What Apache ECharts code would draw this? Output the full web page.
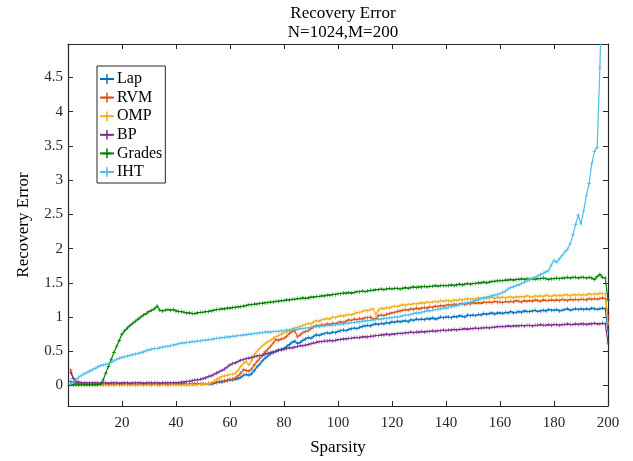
<!DOCTYPE html>
<html>
<head>
<meta charset="utf-8">
<script src="https://cdn.jsdelivr.net/npm/echarts@6/dist/echarts.min.js"></script>
<style>html,body{margin:0;padding:0;background:#fff;}#c{width:633px;height:461px;}</style>
</head>
<body>
<div id="c"></div>
<script>
const seriesNames = ['Lap','RVM','OMP','BP','Grades','IHT'];
const xTicks = [20,40,60,80,100,120,140,160,180,200];
const yTicks = [0,0.5,1,1.5,2,2.5,3,3.5,4,4.5];

const lap = [
0.06,0.04,0.03,0.02,0.02,0.02,0.02,0.02,0.02,0.02,
0.02,0.02,0.01,0.02,0.02,0.02,0.01,0.02,0.02,0.02,
0.02,0.01,0.02,0.02,0.02,0.01,0.02,0.02,0.02,0.02,
0.02,0.02,0.01,0.02,0.02,0.02,0.02,0.01,0.02,0.02,
0.02,0.02,0.02,0.01,0.02,0.02,0.02,0.02,0.02,0.02,
0.02,0.03,0.02,0.03,0.04,0.05,0.05,0.06,0.07,0.08,
0.08,0.09,0.10,0.12,0.15,0.16,0.15,0.17,0.22,0.27,
0.31,0.36,0.40,0.43,0.46,0.48,0.50,0.52,0.53,0.54,
0.57,0.60,0.63,0.65,0.61,0.63,0.66,0.68,0.70,0.69,
0.72,0.74,0.73,0.75,0.76,0.77,0.76,0.78,0.77,0.79,
0.80,0.81,0.80,0.82,0.83,0.84,0.83,0.85,0.86,0.87,
0.88,0.87,0.89,0.90,0.89,0.91,0.90,0.92,0.91,0.93,
0.92,0.94,0.93,0.94,0.95,0.93,0.96,0.95,0.97,0.96,
0.97,0.96,0.98,0.97,0.99,0.97,0.98,1.00,0.99,1.00,
1.00,0.99,1.01,1.00,1.02,1.01,1.00,1.03,1.02,1.03,
1.02,1.04,1.03,1.05,1.04,1.05,1.06,1.04,1.06,1.06,
1.05,1.07,1.06,1.08,1.06,1.07,1.08,1.07,1.09,1.08,
1.08,1.09,1.10,1.08,1.09,1.10,1.09,1.11,1.10,1.10,
1.11,1.09,1.10,1.11,1.12,1.10,1.11,1.12,1.11,1.12,
1.11,1.12,1.11,1.13,1.12,1.11,1.12,1.13,1.12,0.80];

const rvm = [
0.23,0.10,0.04,0.03,0.03,0.02,0.02,0.02,0.02,0.02,
0.02,0.02,0.02,0.01,0.02,0.02,0.02,0.02,0.01,0.02,
0.02,0.02,0.02,0.02,0.01,0.02,0.02,0.02,0.02,0.02,
0.01,0.02,0.02,0.02,0.02,0.02,0.01,0.02,0.02,0.02,
0.02,0.02,0.02,0.02,0.01,0.02,0.02,0.02,0.02,0.02,
0.02,0.03,0.03,0.04,0.05,0.06,0.06,0.07,0.08,0.09,
0.09,0.11,0.14,0.18,0.23,0.22,0.21,0.24,0.30,0.35,
0.39,0.44,0.49,0.53,0.57,0.62,0.67,0.66,0.68,0.69,
0.72,0.76,0.79,0.80,0.71,0.74,0.77,0.79,0.80,0.83,
0.86,0.88,0.87,0.89,0.88,0.90,0.89,0.91,0.90,0.92,
0.93,0.92,0.94,0.96,0.95,0.97,0.96,0.98,0.97,0.99,
0.99,1.00,0.97,0.98,1.02,1.03,1.02,1.04,1.05,1.06,
1.07,1.08,1.09,1.10,1.11,1.10,1.12,1.11,1.13,1.12,
1.13,1.14,1.13,1.15,1.14,1.16,1.15,1.17,1.16,1.17,
1.18,1.17,1.19,1.18,1.19,1.20,1.18,1.20,1.19,1.21,
1.20,1.21,1.20,1.22,1.21,1.22,1.21,1.23,1.22,1.22,
1.21,1.23,1.22,1.23,1.22,1.24,1.23,1.22,1.24,1.23,
1.24,1.23,1.25,1.24,1.23,1.25,1.24,1.24,1.25,1.24,
1.25,1.24,1.26,1.25,1.24,1.26,1.25,1.26,1.25,1.26,
1.26,1.25,1.27,1.26,1.27,1.26,1.27,1.28,1.27,1.00];

const omp = [
0.02,0.01,0.01,0.00,0.01,0.00,0.01,0.00,0.01,0.00,
0.01,0.00,0.01,0.01,0.00,0.01,0.00,0.01,0.01,0.00,
0.01,0.01,0.00,0.01,0.00,0.01,0.01,0.00,0.01,0.01,
0.00,0.01,0.01,0.00,0.01,0.01,0.00,0.01,0.01,0.01,
0.01,0.00,0.01,0.01,0.01,0.01,0.01,0.01,0.02,0.02,
0.02,0.03,0.04,0.06,0.09,0.11,0.13,0.14,0.15,0.16,
0.16,0.18,0.22,0.28,0.32,0.35,0.30,0.36,0.45,0.50,
0.54,0.58,0.61,0.64,0.66,0.69,0.71,0.73,0.75,0.77,
0.78,0.80,0.82,0.84,0.85,0.86,0.88,0.89,0.91,0.90,
0.93,0.95,0.94,0.96,0.97,0.98,0.97,1.00,0.99,1.01,
1.02,1.01,1.03,1.04,1.03,1.05,1.06,1.07,1.08,1.10,
1.09,1.11,1.12,1.04,1.10,1.13,1.12,1.14,1.13,1.15,
1.16,1.15,1.17,1.18,1.17,1.19,1.18,1.20,1.19,1.20,
1.21,1.20,1.22,1.21,1.22,1.23,1.22,1.24,1.23,1.24,
1.24,1.23,1.25,1.24,1.26,1.25,1.26,1.27,1.26,1.27,
1.26,1.28,1.27,1.28,1.27,1.28,1.29,1.27,1.29,1.28,
1.29,1.28,1.29,1.30,1.28,1.30,1.29,1.30,1.29,1.31,
1.30,1.29,1.31,1.30,1.31,1.30,1.32,1.31,1.30,1.32,
1.31,1.32,1.31,1.33,1.32,1.31,1.33,1.32,1.33,1.32,
1.33,1.32,1.34,1.33,1.34,1.33,1.35,1.34,1.34,0.90];

const bp = [
0.19,0.10,0.06,0.05,0.04,0.04,0.04,0.04,0.04,0.04,
0.04,0.03,0.04,0.04,0.03,0.04,0.04,0.04,0.03,0.04,
0.04,0.04,0.03,0.04,0.04,0.04,0.04,0.03,0.04,0.04,
0.04,0.04,0.04,0.03,0.04,0.04,0.04,0.04,0.04,0.04,
0.04,0.05,0.05,0.06,0.06,0.07,0.08,0.08,0.09,0.10,
0.11,0.13,0.14,0.16,0.18,0.20,0.22,0.24,0.27,0.30,
0.32,0.33,0.35,0.37,0.38,0.39,0.40,0.41,0.42,0.43,
0.44,0.44,0.46,0.47,0.48,0.49,0.50,0.51,0.52,0.53,
0.54,0.55,0.55,0.56,0.57,0.58,0.58,0.59,0.60,0.61,
0.62,0.63,0.64,0.64,0.65,0.65,0.66,0.65,0.66,0.67,
0.67,0.68,0.68,0.69,0.69,0.70,0.70,0.70,0.71,0.71,
0.71,0.72,0.72,0.73,0.73,0.74,0.74,0.75,0.74,0.75,
0.75,0.76,0.76,0.76,0.77,0.77,0.78,0.77,0.78,0.78,
0.79,0.78,0.79,0.79,0.80,0.79,0.80,0.80,0.81,0.80,
0.81,0.81,0.82,0.81,0.82,0.82,0.83,0.82,0.83,0.83,
0.84,0.83,0.84,0.84,0.85,0.84,0.85,0.85,0.86,0.86,
0.86,0.86,0.87,0.86,0.87,0.87,0.87,0.88,0.87,0.88,
0.88,0.87,0.88,0.88,0.89,0.88,0.88,0.89,0.88,0.89,
0.89,0.88,0.89,0.89,0.90,0.89,0.89,0.90,0.89,0.90,
0.90,0.89,0.90,0.90,0.91,0.90,0.90,0.91,0.90,0.62];

const grades = [
0.01,0.01,0.01,0.01,0.01,0.01,0.01,0.01,0.01,0.01,
0.01,0.02,0.08,0.18,0.28,0.38,0.48,0.57,0.66,0.75,
0.80,0.84,0.88,0.91,0.94,0.97,1.00,1.03,1.05,1.08,
1.10,1.12,1.16,1.10,1.09,1.10,1.11,1.10,1.11,1.09,
1.08,1.08,1.07,1.06,1.06,1.05,1.05,1.06,1.07,1.07,
1.08,1.08,1.09,1.10,1.11,1.11,1.12,1.12,1.13,1.13,
1.14,1.14,1.15,1.15,1.16,1.17,1.18,1.18,1.19,1.19,
1.20,1.20,1.21,1.21,1.22,1.22,1.23,1.23,1.24,1.24,
1.25,1.25,1.26,1.26,1.27,1.27,1.28,1.27,1.28,1.29,
1.29,1.30,1.30,1.31,1.31,1.32,1.32,1.33,1.33,1.34,
1.34,1.35,1.35,1.36,1.35,1.36,1.37,1.37,1.38,1.37,
1.38,1.39,1.39,1.40,1.40,1.41,1.40,1.41,1.42,1.41,
1.42,1.42,1.41,1.42,1.43,1.42,1.43,1.44,1.43,1.44,
1.44,1.45,1.44,1.45,1.45,1.46,1.45,1.46,1.46,1.46,
1.46,1.47,1.46,1.47,1.48,1.47,1.48,1.49,1.48,1.49,
1.49,1.50,1.50,1.51,1.50,1.51,1.52,1.52,1.53,1.53,
1.53,1.54,1.54,1.55,1.54,1.55,1.55,1.56,1.55,1.56,
1.55,1.56,1.55,1.56,1.56,1.57,1.56,1.55,1.56,1.56,
1.57,1.56,1.57,1.57,1.58,1.57,1.58,1.58,1.57,1.58,
1.58,1.57,1.58,1.57,1.55,1.59,1.62,1.58,1.57,1.25];

const iht = [
0.02,0.05,0.09,0.12,0.15,0.17,0.19,0.21,0.23,0.25,
0.27,0.29,0.30,0.31,0.32,0.34,0.36,0.38,0.40,0.41,
0.42,0.43,0.44,0.45,0.46,0.47,0.48,0.49,0.51,0.52,
0.53,0.54,0.54,0.55,0.56,0.57,0.57,0.58,0.59,0.60,
0.61,0.62,0.62,0.63,0.63,0.64,0.64,0.65,0.65,0.66,
0.66,0.67,0.67,0.68,0.69,0.69,0.70,0.70,0.71,0.71,
0.72,0.72,0.73,0.73,0.74,0.74,0.75,0.75,0.76,0.76,
0.77,0.77,0.78,0.78,0.78,0.79,0.79,0.79,0.80,0.80,
0.81,0.81,0.82,0.82,0.82,0.83,0.83,0.84,0.84,0.85,
0.85,0.86,0.86,0.87,0.87,0.88,0.88,0.88,0.89,0.89,
0.90,0.90,0.91,0.91,0.92,0.92,0.93,0.93,0.94,0.94,
0.95,0.95,0.96,0.96,0.97,0.97,0.98,0.98,0.99,0.99,
1.00,1.00,1.01,1.02,1.03,1.03,1.04,1.05,1.06,1.06,
1.07,1.08,1.09,1.09,1.10,1.11,1.11,1.12,1.13,1.13,
1.14,1.15,1.16,1.17,1.18,1.19,1.20,1.21,1.22,1.23,
1.24,1.25,1.27,1.28,1.29,1.30,1.31,1.32,1.33,1.34,
1.36,1.38,1.41,1.43,1.44,1.46,1.47,1.49,1.51,1.53,
1.55,1.57,1.58,1.60,1.62,1.64,1.66,1.68,1.76,1.83,
1.80,1.85,1.90,1.95,1.99,2.07,2.20,2.35,2.49,2.36,
2.55,2.78,2.95,3.24,3.42,3.48,4.65,6.20,7.50,8.50];

const colors = ['#0072BD','#D95319','#EDB120','#7E2F8E','#008000','#4DBEEE'];
const allData = [lap, rvm, omp, bp, grades, iht];

const FONT = 'Liberation Serif';
const AX = '#262626';
const plus = 'path://M0,2.1H5V2.9H0Z M2.1,0H2.9V5H2.1Z';

const chart = echarts.init(document.getElementById('c'), null, {renderer: 'canvas'});

const xBase = {
  type: 'value', min: 0, max: 200,
  axisLine: {show: true, onZero: false, lineStyle: {color: AX, width: 1.2}},
  axisTick: {show: true, inside: true, length: 5, customValues: xTicks, lineStyle: {color: AX}},
  splitLine: {show: false}
};
const yBase = {
  type: 'value', min: -0.3, max: 4.99,
  axisLine: {show: true, onZero: false, lineStyle: {color: AX, width: 1.2}},
  axisTick: {show: true, inside: true, length: 5, customValues: yTicks, lineStyle: {color: AX}},
  splitLine: {show: false}
};

chart.setOption({
  animation: false,
  backgroundColor: '#fff',
  title: {
    text: 'Recovery Error\nN=1024,M=200',
    left: 338, top: -1, textAlign: 'center',
    textStyle: {fontFamily: FONT, fontSize: 17, fontWeight: 'normal', color: '#000', lineHeight: 19}
  },
  grid: {left: 68, right: 25, top: 44, bottom: 51, containLabel: false},
  legend: {
    data: seriesNames,
    orient: 'vertical',
    left: 97, top: 66,
    backgroundColor: '#fff',
    borderColor: AX, borderWidth: 1,
    padding: [5, 3, 3, 2],
    itemWidth: 14, itemHeight: 12, itemGap: 2.6,
    textStyle: {fontFamily: FONT, fontSize: 16, lineHeight: 16, color: '#000', padding: [0,0,0,-2]}
  },
  xAxis: [
    Object.assign({}, xBase, {
      position: 'bottom',
      name: 'Sparsity', nameLocation: 'middle', nameGap: 33,
      nameTextStyle: {fontFamily: FONT, fontSize: 17, color: '#000'},
      axisLabel: {show: true, customValues: xTicks, margin: 10, fontFamily: FONT, fontSize: 15, color: '#262626'}
    }),
    Object.assign({}, xBase, {position: 'top', axisLabel: {show: false}})
  ],
  yAxis: [
    Object.assign({}, yBase, {
      position: 'left',
      name: 'Recovery Error', nameLocation: 'middle', nameGap: 36,
      nameTextStyle: {fontFamily: FONT, fontSize: 17, color: '#000'},
      axisLabel: {show: true, customValues: yTicks, margin: 5, fontFamily: FONT, fontSize: 15, color: '#262626'}
    }),
    Object.assign({}, yBase, {position: 'right', axisLabel: {show: false}})
  ],
  series: seriesNames.map((name, k) => ({
    name: name,
    type: 'line',
    xAxisIndex: 0, yAxisIndex: 0,
    data: allData[k].map((v, i) => [i + 1, v]),
    symbol: plus, symbolSize: 4, showSymbol: true,
    lineStyle: {width: 1.2, color: colors[k]},
    itemStyle: {color: colors[k]},
    color: colors[k],
    clip: true,
    z: 2 + k
  }))
});
</script>
</body>
</html>
